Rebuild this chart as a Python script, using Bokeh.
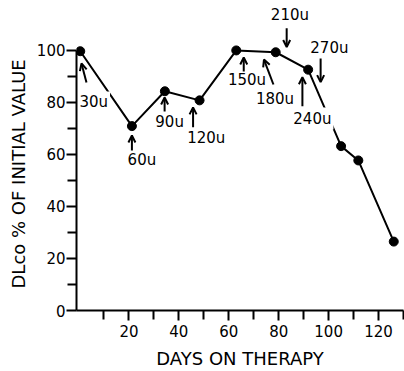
from bokeh.plotting import figure
from bokeh.models import (Range1d, FixedTicker, ColumnDataSource, Arrow, OpenHead, Title)
from bokeh.core.properties import value
from bokeh.embed import file_html
from bokeh.resources import INLINE

# ---- data ----
days = [0.5, 21.2, 34.4, 48.3, 63.0, 78.8, 91.8, 105.0, 111.9, 126.1]
dlco = [99.7, 70.9, 84.3, 80.8, 100.0, 99.3, 92.6, 63.2, 57.7, 26.5]

dose_labels = ["30u", "60u", "90u", "120u", "150u", "180u", "210u", "240u", "270u"]
label_x = [5.9, 25.2, 36.3, 51.0, 67.3, 78.5, 84.5, 93.5, 100.3]
label_y = [80.0, 57.7, 72.4, 66.2, 88.5, 81.2, 113.5, 73.8, 100.9]
arrow_x0 = [3.0, 21.2, 34.3, 45.7, 66.0, 77.9, 83.2, 89.5, 96.8]
arrow_y0 = [87.7, 61.5, 76.5, 70.5, 91.9, 86.9, 108.5, 78.5, 96.9]
arrow_x1 = [1.0, 21.2, 34.3, 45.7, 66.0, 74.1, 83.2, 89.5, 96.8]
arrow_y1 = [95.0, 67.3, 81.9, 78.1, 97.3, 96.5, 101.3, 89.7, 87.8]

x_major = [20, 40, 60, 80, 100, 120]
x_minor = [10, 30, 50, 70, 90, 110, 130]
y_major = [0, 20, 40, 60, 80, 100]
y_minor = [10, 30, 50, 70, 90]

FONT = "DejaVu Sans"

p = figure(width=404, height=371, x_range=Range1d(-1, 130), y_range=Range1d(0, 119.2),
           output_backend="svg", toolbar_location=None,
           min_border_left=73, min_border_right=1, min_border_top=0, min_border_bottom=61)
p.outline_line_color = None
p.xgrid.visible = False
p.ygrid.visible = False
p.background_fill_color = "white"
p.border_fill_color = "white"

# axes
for ax in (p.xaxis[0], p.yaxis[0]):
    ax.axis_line_width = 2
    ax.axis_line_color = "black"
    ax.major_tick_line_width = 2
    ax.minor_tick_line_width = 2
    ax.major_tick_out = 10
    ax.major_tick_in = 0
    ax.minor_tick_out = 9
    ax.minor_tick_in = 0
    ax.major_label_text_font = FONT
    ax.major_label_text_font_size = "15px"
    ax.major_label_text_color = "black"

p.xaxis[0].ticker = FixedTicker(ticks=x_major, minor_ticks=x_minor)
p.yaxis[0].ticker = FixedTicker(ticks=y_major, minor_ticks=y_minor)
p.yaxis[0].bounds = (0, 100)
p.yaxis[0].major_label_standoff = 1
p.xaxis[0].major_label_standoff = 4

p.xaxis[0].axis_label = "DAYS ON THERAPY"
p.xaxis[0].axis_label_text_font = FONT
p.xaxis[0].axis_label_text_font_size = "18px"
p.xaxis[0].axis_label_text_font_style = "normal"
p.xaxis[0].axis_label_text_color = "black"
p.xaxis[0].axis_label_standoff = 8

ytitle = Title(text="DLco % OF INITIAL VALUE", align="left", offset=22,
               text_font=FONT, text_font_size="18px", text_font_style="normal",
               text_color="black")
p.add_layout(ytitle, "left")

# series line and points
p.line(days, dlco, line_color="black", line_width=2)
p.scatter(days, dlco, size=9, fill_color="black", line_color="black")

# arrows
asrc = ColumnDataSource(dict(x0=arrow_x0, y0=arrow_y0, x1=arrow_x1, y1=arrow_y1))
p.add_layout(Arrow(end=OpenHead(size=7, line_color="black", line_width=2),
                   x_start="x0", y_start="y0", x_end="x1", y_end="y1", source=asrc,
                   line_color="black", line_width=2))

# dose labels
lsrc = ColumnDataSource(dict(x=label_x, y=label_y, t=dose_labels))
p.text(x="x", y="y", text="t", source=lsrc, text_font=value(FONT), text_font_size="15px",
       text_align="center", text_baseline="middle", text_color="black",
       background_fill_color="white", padding=2)

open("out.html", "w").write(file_html(p, INLINE))
